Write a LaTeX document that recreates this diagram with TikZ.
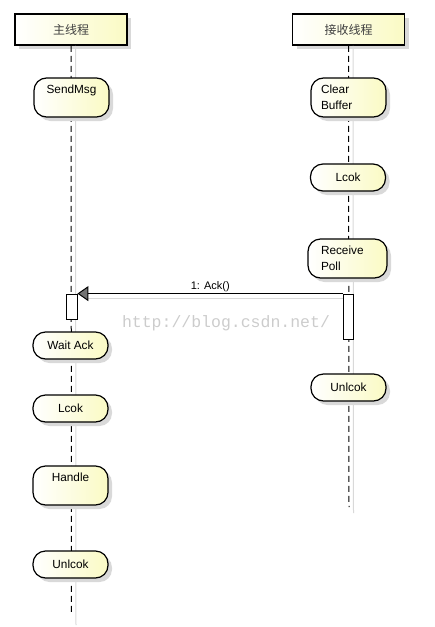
\documentclass[tikz,border=0pt]{standalone}
\usepackage{fontspec}
\setmainfont{Liberation Sans}
\newfontfamily\cjk{Noto Sans CJK SC}
\newfontfamily\wmfont{Liberation Mono}
\usetikzlibrary{arrows.meta,shadows}

\definecolor{notefill}{HTML}{FAFAC4}
\definecolor{shadowgray}{HTML}{D9D9D9}

\tikzset{
  boxshadow/.style={drop shadow={shadow xshift=4pt, shadow yshift=-4pt, fill=shadowgray, opacity=1}},
  header/.style={draw, line width=1.6pt, left color=white, right color=notefill,
    minimum width=112pt, minimum height=31pt, inner sep=0pt, boxshadow,
    font=\cjk\fontsize{12}{14}\selectfont, text=black!75},
  notebox/.style={draw, line width=1.2pt, rounded corners=12.5pt, left color=white, right color=notefill,
    minimum width=75pt, minimum height=27pt, inner sep=0pt, boxshadow,
    font=\fontsize{11.8}{16}\selectfont},
  actbox/.style={draw, fill=white, line width=0.8pt, minimum width=11pt, inner sep=0pt},
  lifeline/.style={line width=1pt, dash pattern=on 6pt off 4pt},
  lifeshadow/.style={shadowgray, line width=1pt},
  msg/.style={line width=1pt, -{Triangle[length=11pt, width=15pt, fill=black!55]}},
  watermark/.style={font=\wmfont\fontsize{16.5}{18}\selectfont, text=black!20}
}

\begin{document}
\begin{tikzpicture}[x=1pt, y=-1pt]
  \useasboundingbox (0,0) rectangle (435,627);

  % participants
  \node[header] (mainhd) at (71,29.5) {主线程};
  \node[header] (recvhd) at (348.5,29.5) {接收线程};

  \coordinate (mainend) at (71.5,613);
  \coordinate (recvend) at (349,507);
  \coordinate (mainshd) at (76,625);
  \coordinate (recvshd) at (353.5,513);

  % lifelines
  \draw[lifeshadow] ([xshift=4.5pt]mainhd.south) -- (mainshd);
  \draw[lifeshadow] ([xshift=4.5pt]recvhd.south) -- (recvshd);
  \draw[lifeline] (mainhd.south) -- (mainend);
  \draw[lifeline] (recvhd.south) -- (recvend);

  % watermark
  \node[watermark] (wm) at (226,323) {http://blog.csdn.net/};

  % main thread
  \node[notebox, minimum height=39pt, align=center] (send) at (71.5,97.5) {SendMsg\\~};
  \node[notebox] (wait) at (70.5,345.5) {Wait Ack};
  \node[notebox] (lock1) at (70.5,408.5) {Lcok};
  \node[notebox, minimum height=39pt, align=center] (handle) at (70.5,485.5) {Handle\\~};
  \node[notebox] (unlock1) at (70.5,564.5) {Unlcok};

  % receive thread
  \node[notebox, minimum height=39pt, text width=55pt, align=left] (clear) at (348.5,97.5) {Clear\\Buffer};
  \node[notebox] (lock2) at (348,177.5) {Lcok};
  \node[notebox, minimum width=79pt, minimum height=39pt, text width=53pt, align=left] (poll) at (347.5,258.5) {Receive\\Poll};
  \node[notebox] (unlock2) at (348.5,387.5) {Unlcok};

  % activations
  \node[actbox, minimum height=25pt] (mainact) at (71.5,306.5) {};
  \node[actbox, minimum width=10pt, minimum height=45pt] (recvact) at (348.5,316.5) {};

  % message
  \draw[lifeshadow, line width=1.2pt] ([yshift=-4.5pt]recvact.north west) -- ([xshift=11pt, yshift=-4.5pt]mainact.north east);
  \draw[msg] (recvact.north west) -- node[above, inner sep=1pt, font=\fontsize{11}{13}\selectfont] (acklbl) {1: Ack()} (mainact.north east);
\end{tikzpicture}
\end{document}
